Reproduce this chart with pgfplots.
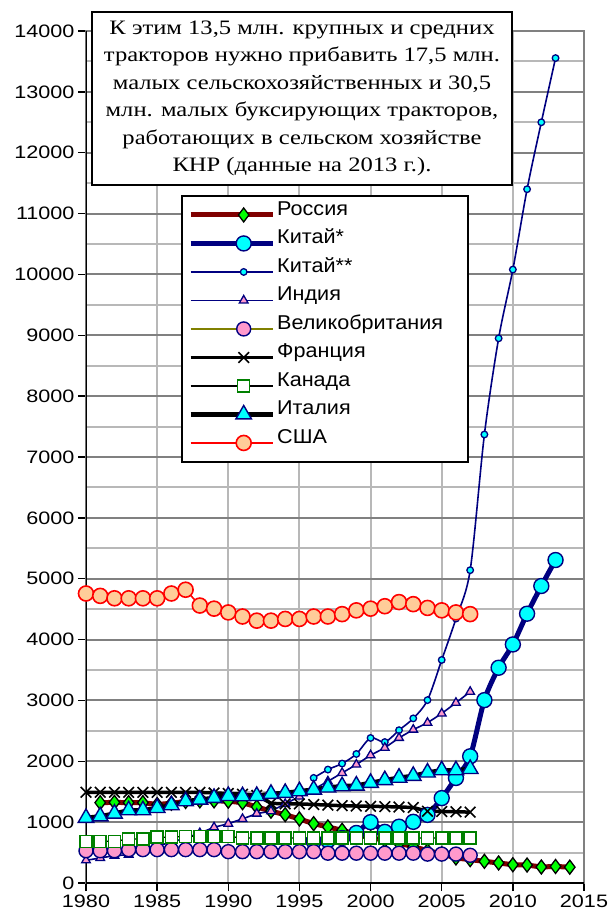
\documentclass[border=0pt]{standalone}
\usepackage{fontspec}
\setmainfont{Liberation Sans}
\newfontfamily\tickfont[FakeStretch=1.2]{Liberation Sans}
\newfontfamily\legfont[FakeStretch=1.08]{Liberation Sans}
\newfontfamily\boxfont[FakeStretch=1.2]{Liberation Serif}
\usepackage{pgfplots}
\pgfplotsset{compat=1.18}
\definecolor{navy}{HTML}{000080}
\definecolor{dkred}{HTML}{800000}
\definecolor{lime}{HTML}{00FF00}
\definecolor{cyn}{HTML}{00FFFF}
\definecolor{pnk}{HTML}{FF99CC}
\definecolor{olv}{HTML}{808000}
\definecolor{grn}{HTML}{008000}
\definecolor{peach}{HTML}{FFCC99}
\definecolor{rd}{HTML}{FF0000}
\definecolor{gridg}{HTML}{B8B8B8}
\definecolor{gridd}{HTML}{808080}
\begin{document}
\begin{tikzpicture}
\begin{axis}[
  at={(0pt,0pt)}, anchor=south west,
  scale only axis, width=498pt, height=852pt,
  xmin=1980, xmax=2015, ymin=0, ymax=14000,
  xtick={1980,1985,...,2015}, ytick={0,1000,...,14000},
  minor ytick={500,1500,...,13500},
  scaled y ticks=false, scaled x ticks=false,
  tick pos=left, tick align=outside,
  major tick length=8pt, minor tick length=0pt,
  every major tick/.append style={black, line width=1.5pt},
  xmajorgrids=true, ymajorgrids=true, yminorgrids=true,
  grid style={color=gridg, line width=2pt},
  major y grid style={color=gridd, line width=2pt},
  axis line style={color=gridd, line width=2pt},
  /pgf/number format/.cd, 1000 sep={}, assume math mode=true,
  /pgfplots/.cd,
  ticklabel style={font=\tickfont\fontsize{18}{20}\selectfont},
  legend style={at={(rel axis cs:0.19277,0.80634)}, anchor=north west,
    draw=none, fill=none,
    font=\legfont\fontsize{20}{22}\selectfont,
    row sep=0pt, inner xsep=6pt, inner ysep=4.5pt,
    nodes={inner ysep=0pt, text height=14.5pt, text depth=14pt}},
  legend cell align=left,
  legend image code/.code={\path (0pt,0pt) -- (24pt,0pt);
    \draw[mark repeat=2,mark phase=2] plot coordinates {(24pt,0pt) (53pt,0pt) (82pt,0pt)};},
]
% Russia
\addplot[color=dkred, line width=5pt, mark=diamond*, mark size=7pt,
  mark options={solid, fill=lime, draw=black, line width=1.3pt}] coordinates {
(1981,1320)(1982,1325)(1983,1320)(1984,1320)(1985,1290)(1986,1310)(1987,1340)(1988,1350)(1989,1350)(1990,1345)
(1991,1320)(1992,1250)(1993,1180)(1994,1123)(1995,1052)(1996,975)(1997,921)(1998,866)(1999,800)(2000,747)
(2001,700)(2002,650)(2003,600)(2004,530)(2005,480)(2006,411)(2007,384)(2008,356)(2009,329)(2010,300)
(2011,295)(2012,263)(2013,272)(2014,260)};
\addlegendentry{Россия}
% China*
\addplot[color=navy, line width=5pt, smooth, mark=*, mark size=7.5pt,
  mark options={solid, fill=cyn, draw=navy, line width=1.4pt}] coordinates {
(1996,685)(1997,700)(1998,740)(1999,822)(2000,1000)(2001,840)(2002,925)(2003,1005)(2004,1119)(2005,1395)
(2006,1726)(2007,2082)(2008,3005)(2009,3537)(2010,3920)(2011,4425)(2012,4880)(2013,5307)};
\addlegendentry{Китай*}
% China**
\addplot[color=navy, line width=1.6pt, smooth, mark=*, mark size=3.3pt,
  mark options={solid, fill=cyn, draw=navy, line width=1.3pt}] coordinates {
(1996,1727)(1997,1864)(1998,1963)(1999,2120)(2000,2383)(2001,2316)(2002,2511)(2003,2705)(2004,3005)(2005,3665)
(2006,4345)(2007,5140)(2008,7370)(2009,8950)(2010,10080)(2011,11400)(2012,12500)(2013,13555)};
\addlegendentry{Китай**}
% India
\addplot[color=navy, line width=1.6pt, mark=triangle*, mark size=5pt,
  mark options={solid, fill=pnk, draw=navy, line width=1.3pt}] coordinates {
(1980,373)(1981,411)(1982,449)(1983,466)(1984,560)(1985,610)(1986,670)(1987,740)(1988,820)(1989,915)
(1990,975)(1991,1053)(1992,1140)(1993,1180)(1994,1300)(1995,1420)(1996,1540)(1997,1670)(1998,1809)(1999,1946)
(2000,2100)(2001,2221)(2002,2385)(2003,2520)(2004,2632)(2005,2785)(2006,2961)(2007,3142)};
\addlegendentry{Индия}
% UK
\addplot[color=olv, line width=1.6pt, mark=*, mark size=7pt,
  mark options={solid, fill=pnk, draw=navy, line width=1.4pt}] coordinates {
(1980,530)(1981,530)(1982,530)(1983,548)(1984,548)(1985,548)(1986,548)(1987,548)(1988,548)(1989,548)
(1990,515)(1991,515)(1992,515)(1993,515)(1994,515)(1995,515)(1996,515)(1997,490)(1998,490)(1999,490)
(2000,490)(2001,490)(2002,490)(2003,490)(2004,475)(2005,475)(2006,475)(2007,455)};
\addlegendentry{Великобритания}
% France
\addplot[color=black, line width=3.5pt, mark=x, mark size=7.5pt,
  mark options={solid, draw=black, line width=1.6pt}] coordinates {
(1980,1490)(1981,1490)(1982,1490)(1983,1490)(1984,1490)(1985,1490)(1986,1490)(1987,1490)(1988,1490)(1989,1480)
(1990,1470)(1991,1460)(1992,1440)(1993,1310)(1994,1300)(1995,1300)(1996,1290)(1997,1280)(1998,1270)(1999,1265)
(2000,1260)(2001,1255)(2002,1250)(2003,1240)(2004,1180)(2005,1175)(2006,1170)(2007,1165)};
\addlegendentry{Франция}
% Canada
\addplot[color=black, line width=1.3pt, mark=square*, mark size=6pt,
  mark options={solid, fill=white, draw=grn, line width=1.6pt}] coordinates {
(1980,685)(1981,685)(1982,685)(1983,723)(1984,723)(1985,751)(1986,751)(1987,767)(1988,767)(1989,767)
(1990,767)(1991,740)(1992,740)(1993,740)(1994,740)(1995,740)(1996,740)(1997,740)(1998,740)(1999,740)
(2000,740)(2001,740)(2002,740)(2003,740)(2004,740)(2005,740)(2006,740)(2007,740)};
\addlegendentry{Канада}
% Italy
\addplot[color=black, line width=4.5pt, mark=triangle*, mark size=9pt,
  mark options={solid, fill=cyn, draw=navy, line width=1.4pt}] coordinates {
(1980,1069)(1981,1096)(1982,1140)(1983,1195)(1984,1195)(1985,1233)(1986,1277)(1987,1343)(1988,1370)(1989,1398)
(1990,1430)(1991,1426)(1992,1430)(1993,1465)(1994,1480)(1995,1508)(1996,1535)(1997,1570)(1998,1590)(1999,1601)
(2000,1645)(2001,1690)(2002,1730)(2003,1760)(2004,1815)(2005,1852)(2006,1852)(2007,1874)};
\addlegendentry{Италия}
% USA
\addplot[color=rd, line width=1.6pt, mark=*, mark size=7.5pt,
  mark options={solid, fill=peach, draw=rd, line width=1.6pt}] coordinates {
(1980,4757)(1981,4718)(1982,4678)(1983,4678)(1984,4678)(1985,4678)(1986,4757)(1987,4819)(1988,4559)(1989,4508)
(1990,4446)(1991,4379)(1992,4311)(1993,4311)(1994,4339)(1995,4339)(1996,4379)(1997,4379)(1998,4418)(1999,4480)
(2000,4508)(2001,4548)(2002,4616)(2003,4582)(2004,4520)(2005,4480)(2006,4446)(2007,4418)};
\addlegendentry{США}
\filldraw[draw=black, fill=white, line width=1.3pt] (rel axis cs:0.19277,0.49413) rectangle (rel axis cs:0.76707,0.80634);
\draw[black, line width=1.8pt] (rel axis cs:0,1) -- (rel axis cs:0,0) -- (rel axis cs:1,0);
\end{axis}
\node[draw=black, line width=1.3pt, fill=white, minimum width=420pt, minimum height=173pt,
  inner sep=0pt, align=center, font=\boxfont\fontsize{20.5}{27.5}\selectfont] at (216pt,784.5pt)
  {К этим 13,5 млн. крупных и средних\\тракторов нужно прибавить 17,5 млн.\\малых сельскохозяйственных и 30,5\\млн. малых буксирующих тракторов,\\работающих в сельском хозяйстве\\КНР (данные на 2013 г.).};
\pgfresetboundingbox
\path[use as bounding box] (-86pt,-35pt) rectangle (523pt,883pt);
\end{tikzpicture}
\end{document}
